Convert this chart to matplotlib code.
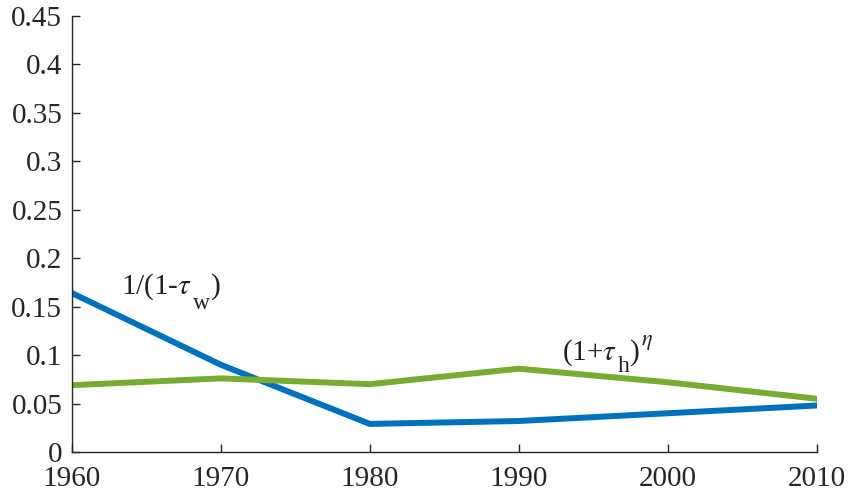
import matplotlib.pyplot as plt

plt.rcParams['font.family'] = ['Liberation Serif', 'DejaVu Serif']
plt.rcParams['mathtext.fontset'] = 'stix'

# values
years = [1960, 1970, 1980, 1990, 2000, 2010]
tau_w = [0.164, 0.090, 0.029, 0.032, 0.040, 0.048]
tau_h = [0.069, 0.076, 0.070, 0.086, 0.072, 0.055]
yticks = [0, 0.05, 0.1, 0.15, 0.2, 0.25, 0.3, 0.35, 0.4, 0.45]
yticklabels = ['0', '0.05', '0.1', '0.15', '0.2', '0.25', '0.3', '0.35', '0.4', '0.45']

fig = plt.figure(figsize=(8.49, 4.91), dpi=100)
ax = fig.add_axes([0.0848, 0.0794, 0.877, 0.888])

ax.plot(years, tau_w, color='#0072BD', lw=4.3, solid_joinstyle='round')
ax.plot(years, tau_h, color='#77AC30', lw=4.3, solid_joinstyle='round')

tc = '#222222'


def piece(s, prev, y, dy, size):
    # put a text piece right after the previous one, shifted dy points from the baseline
    return ax.annotate(s, xy=(1, y), xycoords=(prev, 'data'), xytext=(0.5, dy),
                       textcoords='offset points', va='baseline', fontsize=size, color=tc)


# label 1/(1-tau_w), MATLAB style with big low subscript
y1 = 0.1635
t1 = ax.text(1963.3, y1, r'1/(1-$\tau$', fontsize=21, va='baseline', color=tc)
s1 = piece('w', t1, y1, -11, 17)
piece(')', s1, y1, 0, 21)

# label (1+tau_h)^eta
y2 = 0.095
t2 = ax.text(1992.9, y2, r'(1+$\tau$', fontsize=21, va='baseline', color=tc)
s2 = piece('h', t2, y2, -9, 17)
c2 = piece(')', s2, y2, 0, 21)
piece(r'$\eta$', c2, y2, 11, 16)

ax.set_xlim(1960, 2010)
ax.set_ylim(0, 0.45)
ax.set_xticks(years)
ax.set_yticks(yticks)
ax.set_yticklabels(yticklabels)
for s in ['top', 'right']:
    ax.spines[s].set_visible(False)
for s in ['left', 'bottom']:
    ax.spines[s].set_color('#262626')
    ax.spines[s].set_linewidth(1.0)
ax.tick_params(direction='in', length=6, width=1.0, colors='#262626', labelsize=21)
ax.tick_params(axis='x', pad=10)
ax.tick_params(axis='y', pad=7)

fig.savefig('out.png', dpi=100)
